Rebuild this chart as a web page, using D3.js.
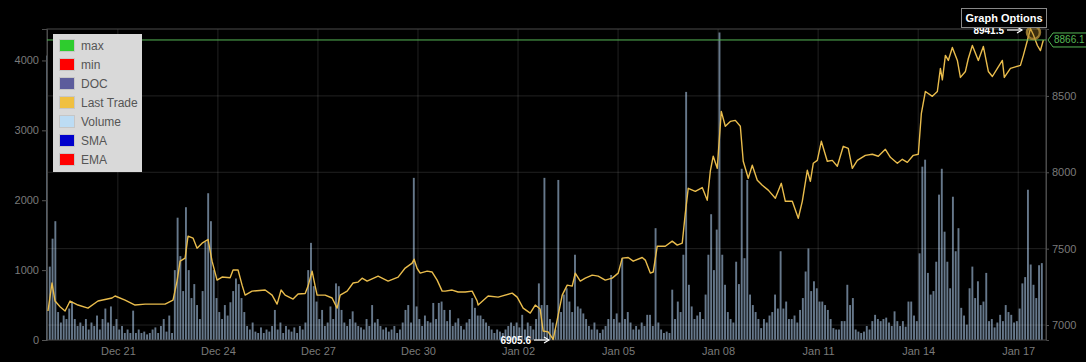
<!DOCTYPE html>
<html>
<head>
<meta charset="utf-8">
<script src="https://cdn.jsdelivr.net/npm/d3@7"></script>
<style>
  body { margin: 0; background: #000; }
  svg { display: block; font-family: "Liberation Sans", Arial, sans-serif; }
</style>
</head>
<body>
<div id="chart"></div>
<script>
const W = 1086, H = 362;
const margin = { LEFT: 47, RIGHT: 40, TOP: 29, BOTTOM: 22 };

// time axis: hours since Dec 18 21:00
const startTime = new Date(2019, 11, 18, 21);
const spanHours = 719;

// volume, one bar every 2 hours
const volume = [
  4070,1050,1450,1700,400,250,350,300,450,550,300,200,
  250,200,300,150,250,200,350,150,300,450,250,480,
  200,300,150,200,100,150,100,420,100,150,100,120,
  80,100,150,180,100,200,300,120,350,100,1000,1750,
  1200,700,1900,1000,600,800,500,300,700,1400,2100,1700,
  1000,600,400,300,500,350,540,700,880,800,600,400,
  200,150,250,120,100,180,100,150,120,200,430,150,
  250,100,200,150,120,180,100,200,150,250,1000,1390,
  770,550,300,430,200,250,480,300,810,770,430,250,
  200,300,410,250,200,180,150,300,200,500,250,300,
  200,150,180,120,150,200,100,150,250,430,500,250,
  2320,480,300,200,350,270,250,530,300,530,550,430,
  270,430,200,250,310,200,150,250,300,600,460,350,
  350,300,250,200,150,100,150,120,100,150,200,250,
  200,250,180,360,150,250,200,150,300,810,500,2320,
  500,300,250,150,2290,400,650,740,550,400,1220,480,
  450,380,300,200,150,250,150,100,150,200,300,930,
  300,380,250,1170,300,400,250,150,200,150,250,200,
  360,360,200,1600,250,150,100,120,100,720,300,550,
  400,1220,3550,790,480,300,350,400,300,650,1220,1800,
  1000,1580,4400,1220,790,400,300,250,1120,800,2450,1170,
  2290,650,500,400,300,170,300,250,350,400,650,450,
  1270,450,550,300,300,350,250,430,600,980,1310,700,
  840,740,550,550,500,430,300,170,150,150,270,270,
  790,500,600,150,120,100,120,200,150,270,360,300,
  270,300,320,250,200,410,270,200,270,190,550,550,
  350,270,1240,2480,2580,960,650,700,1120,2080,2450,1550,
  1120,740,2050,1270,1600,460,350,220,740,1050,600,840,
  500,550,960,270,300,180,250,360,270,500,400,360,
  250,270,450,810,900,2150,1080,790,600,1070,1100
];

// last trade price, read at the hours below
const priceHours = [
  0.7,3.6,5.8,9.4,13,16.6,22.3,29.5,36.7,46.8,49,56.2,63.4,70.6,77.8,85,90.7,93.6,95.8,99.4,
  101.5,105.1,108,111.6,115.2,115.9,118.8,122.4,126,131.8,133.9,137.5,140.4,142.6,147.6,157,162,165.6,168.5,171.4,
  177.1,180.7,185.8,187.9,190.8,193,194.4,200.2,205.2,208.8,211,216,220.3,223.9,226.8,230.4,238.3,245.5,252.7,257.8,
  262.8,264.2,266.4,268.6,273.6,277.2,280.8,284.4,286.6,291.6,295.9,301,306,309.6,310.3,317.5,324.7,334.8,338.4,342.7,
  347.8,351.4,354.9,357.1,360.7,364.3,367.9,370.8,374.4,378,380.2,383.8,387.4,392.4,396.7,401.8,406.8,411.1,414,418.3,
  421.9,428.4,430.6,434.2,436.3,439.2,445,450,453.6,457.2,459.4,461.5,466.6,471.6,475.2,477.4,479.5,482.4,485.3,488.2,
  491.8,495.4,499,501.1,504.7,507.6,511.2,514.8,519.1,524.2,528.5,531.4,536.4,540.7,543.6,547.2,549.4,551.5,554.4,557.3,
  561.6,565.2,568.8,573.1,576.7,579.6,583.2,589,594,598.3,603.4,607,612,615.6,619.2,623.5,627.1,629.3,632.2,637.2,
  640.8,643,644.4,646.6,648.7,651.6,655.2,657.4,661,663.1,666,670.3,673.9,677.5,680.4,684,687.6,689,693.4,697,
  700.6,702.7,705.6,707.8,709.9,712.8,715,717.1
];
const priceValues = [
  7092,7275,7157,7120,7092,7157,7131,7111,7157,7177,7190,7163,7131,7137,7137,7137,7163,7288,7418,7438,
  7582,7569,7503,7536,7556,7560,7418,7294,7314,7310,7360,7360,7261,7196,7222,7229,7196,7137,7229,7196,
  7170,7203,7206,7255,7353,7255,7196,7196,7177,7111,7196,7222,7275,7281,7307,7288,7320,7288,7314,7373,
  7405,7431,7370,7340,7353,7347,7294,7222,7222,7229,7216,7216,7222,7157,7131,7190,7183,7209,7183,7111,
  7078,7131,7105,6961,6955,6906,7065,7196,7261,7255,7340,7288,7307,7327,7320,7294,7307,7340,7438,7442,
  7418,7442,7425,7340,7347,7516,7516,7549,7523,7536,7732,7895,7875,7900,7817,8007,8105,8026,8399,8301,
  8333,8340,8301,8072,7961,8046,7948,7915,7883,7830,7928,7810,7810,7699,7810,8013,7941,8059,8078,8203,
  8072,8078,8039,8170,8157,8026,8078,8111,8118,8105,8150,8098,8059,8085,8065,8111,8118,8386,8529,8497,
  8529,8680,8605,8765,8732,8817,8732,8621,8660,8745,8830,8732,8824,8660,8627,8680,8732,8621,8680,8690,
  8700,8765,8863,8941.5,8900,8830,8797,8866.1
];

const volumeTicks = [0, 1000, 2000, 3000, 4000];
const priceTicks = [7000, 7500, 8000, 8500];
const dateTicks = ["2019-12-21","2019-12-24","2019-12-27","2019-12-30","2020-01-02",
                   "2020-01-05","2020-01-08","2020-01-11","2020-01-14","2020-01-17"];

const legendNames = ["max", "min", "DOC", "Last Trade", "Volume", "SMA", "EMA"];
const legendColors = ["#2ecc2e", "#ff0000", "#5c5c9c", "#f0c040", "#bcdcf4", "#0000cc", "#ff0000"];

const lastPrice = 8866.1;
const maxPoint = { hour: 707.8, value: 8941.5 };
const minPoint = { hour: 364.3, value: 6905.6 };

const svg = d3.select("#chart").append("svg")
  .attr("width", W)
  .attr("height", H);

svg.append("rect").attr("width", W).attr("height", H).attr("fill", "#000");

// Scales
const hourToDate = h => new Date(startTime.getTime() + h * 3600e3);
const x = d3.scaleTime()
  .domain([startTime, hourToDate(spanHours)])
  .range([margin.LEFT, W - margin.RIGHT]);
const yVol = d3.scaleLinear()
  .domain([0, 4450])
  .range([H - margin.BOTTOM, margin.TOP]);
const yPrice = d3.scaleLinear()
  .domain([6902, 8938])
  .range([H - margin.BOTTOM, margin.TOP]);

const parseDay = d3.timeParse("%Y-%m-%d");
const tickDates = dateTicks.map(parseDay);

// Volume bars
svg.append("g")
  .selectAll("rect")
  .data(volume)
  .join("rect")
  .attr("x", (d, i) => x(hourToDate(i * 2)) - 0.95)
  .attr("y", d => yVol(d))
  .attr("width", 1.9)
  .attr("height", d => yVol(0) - yVol(d))
  .attr("fill", "#66788b");

// Grid
const grid = svg.append("g")
  .attr("stroke", "#ffffff")
  .attr("stroke-opacity", 0.13);
grid.selectAll("line.h")
  .data(priceTicks)
  .join("line")
  .attr("class", "h")
  .attr("x1", margin.LEFT).attr("x2", W - margin.RIGHT)
  .attr("y1", d => yPrice(d)).attr("y2", d => yPrice(d));
grid.selectAll("line.v")
  .data(tickDates)
  .join("line")
  .attr("class", "v")
  .attr("x1", d => x(d)).attr("x2", d => x(d))
  .attr("y1", margin.TOP).attr("y2", H - margin.BOTTOM);

// Frame
svg.append("rect")
  .attr("x", margin.LEFT).attr("y", margin.TOP)
  .attr("width", W - margin.RIGHT - margin.LEFT)
  .attr("height", H - margin.BOTTOM - margin.TOP)
  .attr("fill", "none")
  .attr("stroke", "#4a4a4a");

// Axes
const styleAxis = g => {
  g.select(".domain").attr("stroke", "#4a4a4a");
  g.selectAll(".tick line").attr("stroke", "#555");
  g.selectAll(".tick text").attr("fill", "#7a7a7a").attr("font-size", "11px")
    .attr("font-family", "Liberation Sans, Arial, sans-serif");
};

svg.append("g")
  .attr("transform", `translate(${margin.LEFT},0)`)
  .call(d3.axisLeft(yVol).tickValues(volumeTicks).tickSize(5).tickPadding(3).tickFormat(d3.format("d")))
  .call(styleAxis);

svg.append("g")
  .attr("transform", `translate(${W - margin.RIGHT},0)`)
  .call(d3.axisRight(yPrice).tickValues(priceTicks).tickSize(3).tickPadding(3).tickFormat(d3.format("d")))
  .call(styleAxis);

svg.append("g")
  .attr("transform", `translate(0,${H - margin.BOTTOM})`)
  .call(d3.axisBottom(x).tickValues(tickDates).tickSize(0).tickPadding(7).tickFormat(d3.timeFormat("%b %d")))
  .call(styleAxis)
  .call(g => g.select(".domain").remove());

// Last trade line
const line = d3.line()
  .x((d, i) => x(hourToDate(priceHours[i])))
  .y(d => yPrice(d));
svg.append("path")
  .datum(priceValues)
  .attr("d", line)
  .attr("fill", "none")
  .attr("stroke", "#e9bc4c")
  .attr("stroke-width", 1.4)
  .attr("stroke-linejoin", "round");

// Current price line + tag
const yLast = yPrice(lastPrice);
svg.append("line")
  .attr("x1", margin.LEFT).attr("x2", W - margin.RIGHT)
  .attr("y1", yLast).attr("y2", yLast)
  .attr("stroke", "#55b855")
  .attr("stroke-width", 1);
const tagX = W - margin.RIGHT + 2;
svg.append("path")
  .attr("d", `M${tagX},${yLast} L${tagX + 5},${yLast - 7} L${tagX + 40},${yLast - 7} L${tagX + 40},${yLast + 7} L${tagX + 5},${yLast + 7} Z`)
  .attr("fill", "#000")
  .attr("stroke", "#55b855");
svg.append("text")
  .attr("x", tagX + 6).attr("y", yLast + 3.5)
  .attr("fill", "#55b855")
  .attr("font-size", "10px")
  .text(d3.format(".1f")(lastPrice));

// Max marker
const mx = x(hourToDate(maxPoint.hour)) + 3, my = yPrice(maxPoint.value) + 4;
svg.append("circle")
  .attr("cx", mx).attr("cy", my).attr("r", 6.5)
  .attr("fill", "rgba(170,130,40,0.35)")
  .attr("stroke", "rgba(190,150,60,0.75)")
  .attr("stroke-width", 2.5);

// Arrow annotations
function arrowLabel(tx, ty, x2, label) {
  const g = svg.append("g");
  g.append("text")
    .attr("x", tx).attr("y", ty + 3.5)
    .attr("text-anchor", "end")
    .attr("fill", "#fff")
    .attr("font-size", "10px")
    .attr("font-weight", "bold")
    .text(label);
  g.append("line")
    .attr("x1", tx + 3).attr("x2", x2)
    .attr("y1", ty).attr("y2", ty)
    .attr("stroke", "#fff").attr("stroke-width", 1.2);
  g.append("path")
    .attr("d", `M${x2 - 5},${ty - 3} L${x2},${ty} L${x2 - 5},${ty + 3}`)
    .attr("fill", "none").attr("stroke", "#fff").attr("stroke-width", 1.2);
}
arrowLabel(1004, 30, 1022, d3.format(".1f")(maxPoint.value));
arrowLabel(531, 340, 549, d3.format(".1f")(minPoint.value));

// Graph options button
svg.append("rect")
  .attr("x", 961.5).attr("y", 8.5)
  .attr("width", 85).attr("height", 19)
  .attr("fill", "#000")
  .attr("stroke", "#888");
svg.append("text")
  .attr("x", 1004).attr("y", 22)
  .attr("text-anchor", "middle")
  .attr("fill", "#fff")
  .attr("font-size", "11px")
  .attr("font-weight", "bold")
  .text("Graph Options");

// Legend
const legend = svg.append("g").attr("transform", "translate(53,34)");
legend.append("rect")
  .attr("width", 89).attr("height", 138)
  .attr("fill", "#d9d9d9");
legendNames.forEach((name, i) => {
  const row = legend.append("g").attr("transform", `translate(0, ${i * 19})`);
  row.append("rect")
    .attr("x", 6.5).attr("y", 5.5)
    .attr("width", 15).attr("height", 12)
    .attr("fill", legendColors[i])
    .attr("stroke", "#c6c6c6");
  row.append("text")
    .attr("x", 28).attr("y", 16)
    .attr("fill", "#555")
    .attr("font-size", "12px")
    .text(name);
});
</script>
</body>
</html>
